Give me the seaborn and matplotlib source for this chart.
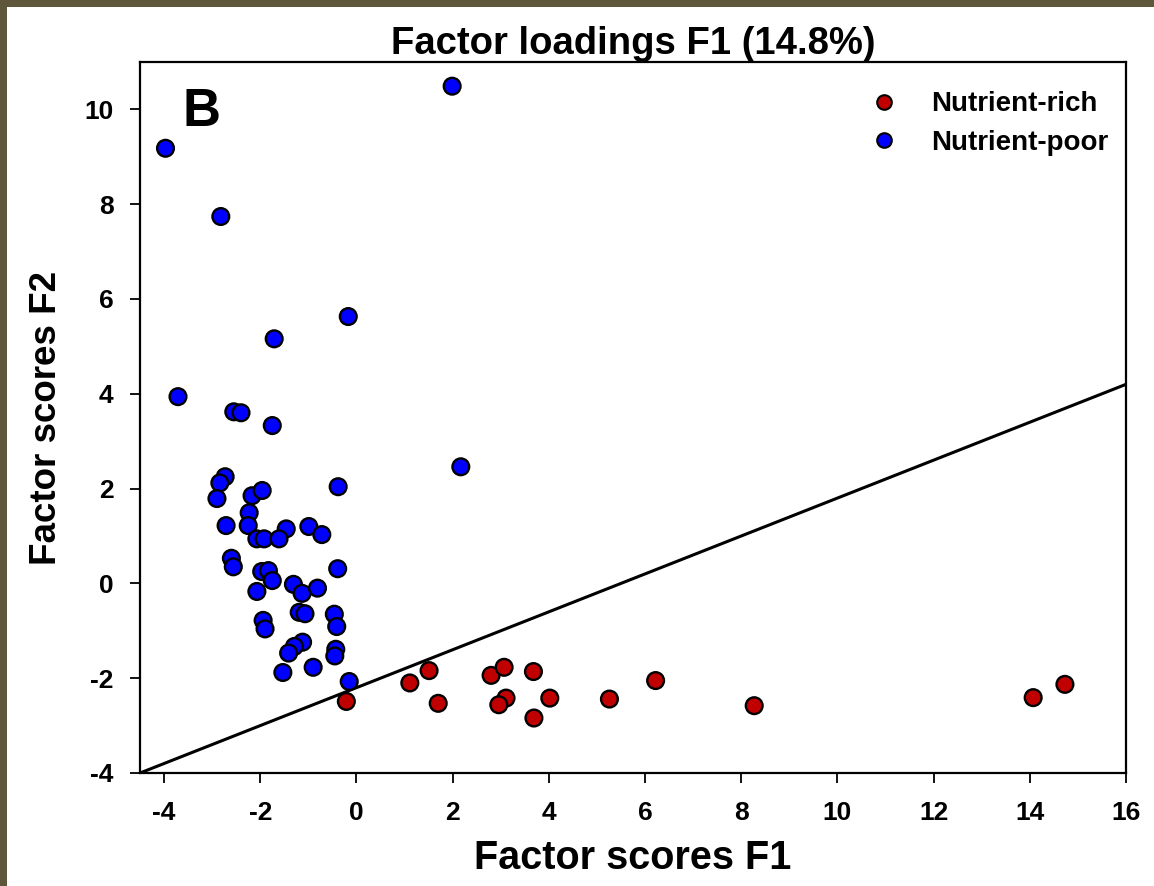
import matplotlib
matplotlib.use("Agg")
import matplotlib.pyplot as plt
import seaborn as sns
import pandas as pd
from matplotlib.patches import Rectangle
from matplotlib.lines import Line2D

# ---- data ----
poor_x = [-3.97, 1.99, -2.82, -0.17, -1.71, -3.71, -2.55, -2.40, -1.75, -2.73,
          -2.84, -2.90, -2.17, -1.96, -0.38, -2.23, -2.71, -2.25, -1.46, -0.99,
          -0.72, -2.07, -1.92, -1.61, -2.60, -2.56, -1.97, -1.83, -1.75, -0.39,
          -1.31, -1.13, -0.81, -2.07, -1.19, -1.07, -1.94, -1.90, -0.46, -0.41,
          -1.12, -1.29, -1.41, -0.43, -0.45, -0.90, -1.53, -0.15, 2.17]
poor_y = [9.18, 10.49, 7.74, 5.63, 5.16, 3.94, 3.62, 3.60, 3.33, 2.25,
          2.12, 1.79, 1.85, 1.96, 2.04, 1.49, 1.22, 1.22, 1.15, 1.20,
          1.03, 0.94, 0.94, 0.94, 0.53, 0.35, 0.25, 0.27, 0.06, 0.31,
          -0.02, -0.21, -0.10, -0.17, -0.61, -0.64, -0.78, -0.96, -0.65, -0.91,
          -1.24, -1.33, -1.47, -1.39, -1.53, -1.77, -1.88, -2.07, 2.46]
rich_x = [-0.21, 1.11, 1.51, 1.70, 2.80, 3.07, 3.11, 2.96, 3.68, 3.69,
          4.02, 5.26, 6.22, 8.27, 14.07, 14.73]
rich_y = [-2.49, -2.10, -1.84, -2.53, -1.94, -1.77, -2.42, -2.56, -1.86, -2.84,
          -2.42, -2.44, -2.05, -2.58, -2.41, -2.13]
groups = ["Nutrient-rich", "Nutrient-poor"]
group_colors = ["#c00000", "#0000ff"]
line_slope = 0.4
line_intercept = -2.2
x_ticks = [-4, -2, 0, 2, 4, 6, 8, 10, 12, 14, 16]
y_ticks = [-4, -2, 0, 2, 4, 6, 8, 10]

df = pd.DataFrame({
    "F1": poor_x + rich_x,
    "F2": poor_y + rich_y,
    "group": [groups[1]] * len(poor_x) + [groups[0]] * len(rich_x),
})

sns.set_theme(style="white")
plt.rcParams["font.family"] = ["Liberation Sans", "DejaVu Sans"]
plt.rcParams["axes.unicode_minus"] = False
for key in ["text.color", "axes.labelcolor", "xtick.color", "ytick.color", "axes.edgecolor"]:
    plt.rcParams[key] = "black"

fig = plt.figure(figsize=(11.54, 8.86), dpi=100)
fig.patch.set_facecolor("white")
# olive border (top and left)
fig.patches.append(Rectangle((0, 1 - 7 / 886), 1, 7 / 886, transform=fig.transFigure,
                             facecolor="#5f573c", edgecolor="none", zorder=0))
fig.patches.append(Rectangle((0, 0), 7 / 1154, 1, transform=fig.transFigure,
                             facecolor="#5f573c", edgecolor="none", zorder=0))

ax = fig.add_axes([140 / 1154, 1 - 773 / 886, (1126 - 140) / 1154, (773 - 62) / 886])

ax.axline((0, line_intercept), slope=line_slope, color="black", lw=2.2, zorder=1)

sns.scatterplot(data=df, x="F1", y="F2", hue="group", hue_order=groups,
                palette=dict(zip(groups, group_colors)), s=145,
                edgecolor="black", linewidth=1.7, legend=False, ax=ax, zorder=3)

ax.set_xlim(-4.5, 16)
ax.set_ylim(-4, 11)
ax.set_xticks(x_ticks)
ax.set_yticks(y_ticks)
ax.set_xticklabels([str(t) for t in x_ticks])
ax.set_yticklabels([str(t) for t in y_ticks])

for s in ax.spines.values():
    s.set_color("black")
    s.set_linewidth(1.6)
ax.tick_params(axis="both", which="both", direction="out", length=7, width=1.3,
               color="black", bottom=True, left=True, top=False, right=False,
               labelsize=19, labelcolor="black")
ax.tick_params(axis="y", pad=12)
ax.tick_params(axis="x", pad=13)
for lab in ax.get_xticklabels() + ax.get_yticklabels():
    lab.set_fontweight("bold")

ax.set_xlabel("Factor scores F1", fontsize=28.5, fontweight="bold", labelpad=10)
ax.set_ylabel("Factor scores F2", fontsize=26.5, fontweight="bold", labelpad=15)
ax.set_title("Factor loadings F1 (14.8%)", fontsize=27.5, fontweight="bold", pad=6)

ax.text(0.043, 0.93, "B", transform=ax.transAxes, fontsize=38, fontweight="bold",
        ha="left", va="center")

handles = [Line2D([0], [0], marker="o", linestyle="none", markerfacecolor=c,
                  markeredgecolor="black", markeredgewidth=1.5, markersize=10.5)
           for c in group_colors]
leg = ax.legend(handles, groups, loc="upper left", bbox_to_anchor=(0.715, 0.994),
                frameon=False, prop={"weight": "bold", "size": 20},
                handletextpad=1.2, labelspacing=0.46, handlelength=1.0)

fig.savefig("out.png", dpi=100, facecolor=fig.get_facecolor())
